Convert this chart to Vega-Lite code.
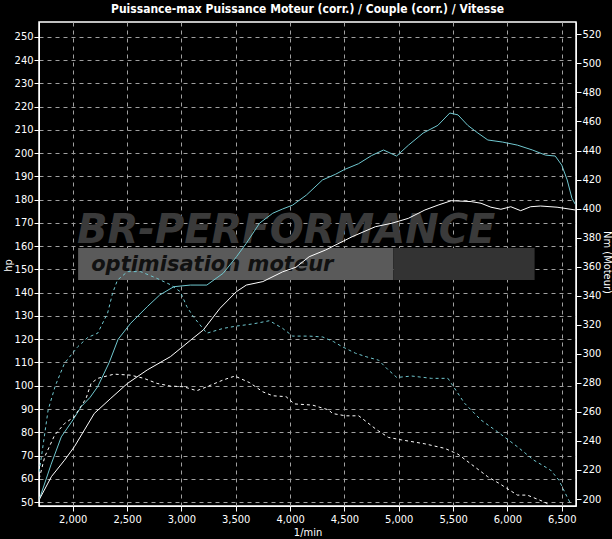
{
  "$schema": "https://vega.github.io/schema/vega-lite/v6.json",
  "width": 537,
  "height": 484,
  "autosize": {"type": "none"},
  "padding": {"left": 39, "top": 22, "right": 36, "bottom": 33},
  "background": "#000000",
  "title": {
    "text": "Puissance-max Puissance Moteur (corr.) / Couple (corr.) / Vitesse",
    "color": "#ffffff",
    "fontSize": 12,
    "fontWeight": "bold",
    "font": "DejaVu Sans Condensed, Liberation Sans, sans-serif",
    "anchor": "middle",
    "offset": 6
  },
  "config": {
    "font": "DejaVu Sans Condensed, Liberation Sans, sans-serif",
    "view": {"stroke": "#ffffff", "strokeWidth": 1.5},
    "axis": {
      "labelColor": "#ffffff",
      "titleColor": "#ffffff",
      "labelFontSize": 11,
      "titleFontSize": 11,
      "titleFontWeight": "normal",
      "domainColor": "#ffffff",
      "tickColor": "#ffffff",
      "gridColor": "#a0a0a0",
      "gridDash": [4, 4],
      "gridWidth": 1
    }
  },
  "datasets": {
    "power": [
      {"rpm": 1692, "hp": 51, "run": "tuned"}, {"rpm": 1800, "hp": 66, "run": "tuned"}, {"rpm": 1895, "hp": 78, "run": "tuned"},
      {"rpm": 2002, "hp": 85.3, "run": "tuned"}, {"rpm": 2078, "hp": 91, "run": "tuned"}, {"rpm": 2160, "hp": 95, "run": "tuned"},
      {"rpm": 2230, "hp": 99.6, "run": "tuned"}, {"rpm": 2336, "hp": 110, "run": "tuned"}, {"rpm": 2418, "hp": 120, "run": "tuned"},
      {"rpm": 2534, "hp": 126.9, "run": "tuned"}, {"rpm": 2686, "hp": 134, "run": "tuned"}, {"rpm": 2800, "hp": 139, "run": "tuned"},
      {"rpm": 2930, "hp": 142.6, "run": "tuned"}, {"rpm": 3082, "hp": 143.3, "run": "tuned"}, {"rpm": 3234, "hp": 143.3, "run": "tuned"},
      {"rpm": 3385, "hp": 148.4, "run": "tuned"}, {"rpm": 3507, "hp": 155.5, "run": "tuned"}, {"rpm": 3598, "hp": 161.3, "run": "tuned"},
      {"rpm": 3719, "hp": 169.9, "run": "tuned"}, {"rpm": 3841, "hp": 174.2, "run": "tuned"}, {"rpm": 3930, "hp": 176, "run": "tuned"},
      {"rpm": 4024, "hp": 177.7, "run": "tuned"}, {"rpm": 4150, "hp": 182, "run": "tuned"}, {"rpm": 4298, "hp": 188.5, "run": "tuned"},
      {"rpm": 4420, "hp": 191, "run": "tuned"}, {"rpm": 4500, "hp": 193, "run": "tuned"}, {"rpm": 4630, "hp": 195.5, "run": "tuned"},
      {"rpm": 4750, "hp": 199, "run": "tuned"}, {"rpm": 4860, "hp": 201.4, "run": "tuned"}, {"rpm": 4980, "hp": 198.8, "run": "tuned"},
      {"rpm": 5090, "hp": 203.5, "run": "tuned"}, {"rpm": 5225, "hp": 208.7, "run": "tuned"}, {"rpm": 5360, "hp": 212, "run": "tuned"},
      {"rpm": 5470, "hp": 217.3, "run": "tuned"}, {"rpm": 5545, "hp": 216.5, "run": "tuned"}, {"rpm": 5635, "hp": 212, "run": "tuned"},
      {"rpm": 5728, "hp": 208.7, "run": "tuned"}, {"rpm": 5820, "hp": 205.7, "run": "tuned"}, {"rpm": 5956, "hp": 204.8, "run": "tuned"},
      {"rpm": 6092, "hp": 203.5, "run": "tuned"}, {"rpm": 6230, "hp": 201.4, "run": "tuned"}, {"rpm": 6350, "hp": 199.2, "run": "tuned"},
      {"rpm": 6440, "hp": 198.8, "run": "tuned"}, {"rpm": 6500, "hp": 194.9, "run": "tuned"}, {"rpm": 6550, "hp": 188.5, "run": "tuned"},
      {"rpm": 6594, "hp": 180.6, "run": "tuned"}, {"rpm": 6625, "hp": 178, "run": "tuned"},
      {"rpm": 1692, "hp": 51, "run": "stock"}, {"rpm": 1804, "hp": 60.9, "run": "stock"}, {"rpm": 1925, "hp": 68, "run": "stock"},
      {"rpm": 2016, "hp": 73.8, "run": "stock"}, {"rpm": 2108, "hp": 81, "run": "stock"}, {"rpm": 2199, "hp": 88.1, "run": "stock"},
      {"rpm": 2351, "hp": 94.6, "run": "stock"}, {"rpm": 2504, "hp": 101, "run": "stock"}, {"rpm": 2686, "hp": 106.8, "run": "stock"},
      {"rpm": 2899, "hp": 112.5, "run": "stock"}, {"rpm": 3082, "hp": 119.5, "run": "stock"}, {"rpm": 3202, "hp": 124, "run": "stock"},
      {"rpm": 3355, "hp": 133.3, "run": "stock"}, {"rpm": 3507, "hp": 140.5, "run": "stock"}, {"rpm": 3598, "hp": 143.3, "run": "stock"},
      {"rpm": 3750, "hp": 144.8, "run": "stock"}, {"rpm": 3932, "hp": 149, "run": "stock"}, {"rpm": 4055, "hp": 151, "run": "stock"},
      {"rpm": 4176, "hp": 155.5, "run": "stock"}, {"rpm": 4328, "hp": 158.4, "run": "stock"}, {"rpm": 4571, "hp": 164.1, "run": "stock"},
      {"rpm": 4785, "hp": 168.4, "run": "stock"}, {"rpm": 4937, "hp": 169.9, "run": "stock"}, {"rpm": 5088, "hp": 172, "run": "stock"},
      {"rpm": 5241, "hp": 175.6, "run": "stock"}, {"rpm": 5362, "hp": 177.7, "run": "stock"}, {"rpm": 5484, "hp": 179.6, "run": "stock"},
      {"rpm": 5666, "hp": 179.2, "run": "stock"}, {"rpm": 5757, "hp": 178.5, "run": "stock"}, {"rpm": 5848, "hp": 176.8, "run": "stock"},
      {"rpm": 5940, "hp": 175.9, "run": "stock"}, {"rpm": 6031, "hp": 177, "run": "stock"}, {"rpm": 6122, "hp": 175.3, "run": "stock"},
      {"rpm": 6213, "hp": 177, "run": "stock"}, {"rpm": 6305, "hp": 177.3, "run": "stock"}, {"rpm": 6457, "hp": 176.8, "run": "stock"},
      {"rpm": 6625, "hp": 175.6, "run": "stock"}
    ],
    "torque": [
      {"rpm": 1692, "nm": 218.7, "run": "tuned"}, {"rpm": 1720, "nm": 233.2, "run": "tuned"}, {"rpm": 1774, "nm": 261.3, "run": "tuned"},
      {"rpm": 1840, "nm": 278, "run": "tuned"}, {"rpm": 1925, "nm": 293.5, "run": "tuned"}, {"rpm": 2047, "nm": 304.9, "run": "tuned"},
      {"rpm": 2139, "nm": 311.3, "run": "tuned"}, {"rpm": 2230, "nm": 314.2, "run": "tuned"}, {"rpm": 2321, "nm": 328, "run": "tuned"},
      {"rpm": 2367, "nm": 341.7, "run": "tuned"}, {"rpm": 2412, "nm": 350.8, "run": "tuned"}, {"rpm": 2504, "nm": 356.6, "run": "tuned"},
      {"rpm": 2625, "nm": 356.6, "run": "tuned"}, {"rpm": 2777, "nm": 351.9, "run": "tuned"}, {"rpm": 2899, "nm": 347.6, "run": "tuned"},
      {"rpm": 2990, "nm": 342.8, "run": "tuned"}, {"rpm": 3051, "nm": 332.4, "run": "tuned"}, {"rpm": 3111, "nm": 325.5, "run": "tuned"},
      {"rpm": 3234, "nm": 314.2, "run": "tuned"}, {"rpm": 3385, "nm": 317.5, "run": "tuned"}, {"rpm": 3507, "nm": 319.1, "run": "tuned"},
      {"rpm": 3659, "nm": 320.6, "run": "tuned"}, {"rpm": 3811, "nm": 322.8, "run": "tuned"}, {"rpm": 3932, "nm": 317.5, "run": "tuned"},
      {"rpm": 4024, "nm": 312.2, "run": "tuned"}, {"rpm": 4176, "nm": 312.2, "run": "tuned"}, {"rpm": 4300, "nm": 311.6, "run": "tuned"},
      {"rpm": 4400, "nm": 308.4, "run": "tuned"}, {"rpm": 4480, "nm": 304.9, "run": "tuned"}, {"rpm": 4602, "nm": 300.4, "run": "tuned"},
      {"rpm": 4700, "nm": 298, "run": "tuned"}, {"rpm": 4815, "nm": 295.6, "run": "tuned"}, {"rpm": 4900, "nm": 289.2, "run": "tuned"},
      {"rpm": 4982, "nm": 283.7, "run": "tuned"}, {"rpm": 5119, "nm": 284.7, "run": "tuned"}, {"rpm": 5301, "nm": 283.1, "run": "tuned"},
      {"rpm": 5453, "nm": 283.1, "run": "tuned"}, {"rpm": 5484, "nm": 279.6, "run": "tuned"}, {"rpm": 5605, "nm": 266, "run": "tuned"},
      {"rpm": 5757, "nm": 254.4, "run": "tuned"}, {"rpm": 5909, "nm": 246.3, "run": "tuned"}, {"rpm": 6092, "nm": 236, "run": "tuned"},
      {"rpm": 6244, "nm": 226.7, "run": "tuned"}, {"rpm": 6396, "nm": 220, "run": "tuned"}, {"rpm": 6473, "nm": 213.1, "run": "tuned"},
      {"rpm": 6548, "nm": 201.6, "run": "tuned"}, {"rpm": 6580, "nm": 197, "run": "tuned"},
      {"rpm": 1692, "nm": 214, "run": "stock"}, {"rpm": 1743, "nm": 229.2, "run": "stock"}, {"rpm": 1834, "nm": 244, "run": "stock"},
      {"rpm": 1925, "nm": 252, "run": "stock"}, {"rpm": 2016, "nm": 256.7, "run": "stock"}, {"rpm": 2123, "nm": 269.3, "run": "stock"},
      {"rpm": 2169, "nm": 279.6, "run": "stock"}, {"rpm": 2230, "nm": 283.1, "run": "stock"}, {"rpm": 2381, "nm": 286, "run": "stock"},
      {"rpm": 2534, "nm": 285.3, "run": "stock"}, {"rpm": 2655, "nm": 283.1, "run": "stock"}, {"rpm": 2777, "nm": 279.6, "run": "stock"},
      {"rpm": 2899, "nm": 277.8, "run": "stock"}, {"rpm": 3020, "nm": 277.3, "run": "stock"}, {"rpm": 3142, "nm": 274.6, "run": "stock"},
      {"rpm": 3234, "nm": 277.3, "run": "stock"}, {"rpm": 3385, "nm": 282, "run": "stock"}, {"rpm": 3492, "nm": 284.7, "run": "stock"},
      {"rpm": 3629, "nm": 280.1, "run": "stock"}, {"rpm": 3750, "nm": 273.8, "run": "stock"}, {"rpm": 3841, "nm": 271.1, "run": "stock"},
      {"rpm": 3963, "nm": 270.5, "run": "stock"}, {"rpm": 4039, "nm": 265.5, "run": "stock"}, {"rpm": 4206, "nm": 264.7, "run": "stock"},
      {"rpm": 4358, "nm": 261.3, "run": "stock"}, {"rpm": 4389, "nm": 258.9, "run": "stock"}, {"rpm": 4511, "nm": 257.3, "run": "stock"},
      {"rpm": 4632, "nm": 257.3, "run": "stock"}, {"rpm": 4799, "nm": 247.6, "run": "stock"}, {"rpm": 4906, "nm": 242.4, "run": "stock"},
      {"rpm": 5027, "nm": 240.7, "run": "stock"}, {"rpm": 5241, "nm": 238, "run": "stock"}, {"rpm": 5423, "nm": 234.9, "run": "stock"},
      {"rpm": 5545, "nm": 230.9, "run": "stock"}, {"rpm": 5697, "nm": 222.3, "run": "stock"}, {"rpm": 5818, "nm": 215.4, "run": "stock"},
      {"rpm": 5925, "nm": 210.7, "run": "stock"}, {"rpm": 6092, "nm": 202.7, "run": "stock"}, {"rpm": 6183, "nm": 202.7, "run": "stock"},
      {"rpm": 6335, "nm": 198.1, "run": "stock"}, {"rpm": 6380, "nm": 196.3, "run": "stock"}
    ],
    "logo": [
      {"line": "BR-PERFORMANCE"},
      {"line": "optimisation moteur"}
    ]
  },
  "layer": [
    {
      "layer": [
        {
          "data": {"values": [{"part": "banner"}]},
          "mark": {"type": "rect", "color": "#5a5a5a"},
          "encoding": {
            "x": {"datum": 2050, "type": "quantitative"},
            "x2": {"datum": 4950},
            "y": {"datum": 145.5, "type": "quantitative"},
            "y2": {"datum": 159.2}
          }
        },
        {
          "data": {"values": [{"part": "flag"}]},
          "mark": {"type": "rect", "color": "#333333"},
          "encoding": {
            "x": {"datum": 4950, "type": "quantitative"},
            "x2": {"datum": 6250},
            "y": {"datum": 145.5, "type": "quantitative"},
            "y2": {"datum": 159.2}
          }
        },
        {
          "data": {"name": "logo"},
          "transform": [{"filter": "datum.line === 'BR-PERFORMANCE'"}],
          "mark": {"type": "text", "align": "left", "baseline": "alphabetic", "fontSize": 40, "fontStyle": "italic", "fontWeight": "bold", "font": "DejaVu Sans", "color": "#3a3a3a"},
          "encoding": {
            "x": {"datum": 2040, "type": "quantitative"},
            "y": {"datum": 161.5, "type": "quantitative"},
            "text": {"field": "line"}
          }
        },
        {
          "data": {"name": "logo"},
          "transform": [{"filter": "datum.line === 'optimisation moteur'"}],
          "mark": {"type": "text", "align": "left", "baseline": "alphabetic", "fontSize": 21, "fontStyle": "italic", "fontWeight": "bold", "font": "DejaVu Sans", "color": "#111111"},
          "encoding": {
            "x": {"datum": 2170, "type": "quantitative"},
            "y": {"datum": 149.2, "type": "quantitative"},
            "text": {"field": "line"}
          }
        },
        {
          "data": {"name": "power"},
          "mark": {"type": "line", "strokeWidth": 1, "clip": true},
          "encoding": {
            "x": {"field": "rpm", "type": "quantitative"},
            "y": {"field": "hp", "type": "quantitative"},
            "color": {"field": "run", "type": "nominal", "scale": {"domain": ["stock", "tuned"], "range": ["#ffffff", "#70c8d0"]}, "legend": null},
            "detail": {"field": "run"}
          }
        }
      ],
      "encoding": {
        "x": {
          "type": "quantitative",
          "scale": {"domain": [1690, 6631], "nice": false, "zero": false},
          "axis": {
            "title": "1/min",
            "values": [2000, 2500, 3000, 3500, 4000, 4500, 5000, 5500, 6000, 6500],
            "format": ",d",
            "tickSize": 5,
            "labelPadding": 2,
            "titlePadding": 2,
            "grid": true
          }
        },
        "y": {
          "type": "quantitative",
          "scale": {"domain": [48.28, 256.45], "nice": false, "zero": false},
          "axis": {
            "title": "hp",
            "orient": "left",
            "values": [50, 60, 70, 80, 90, 100, 110, 120, 130, 140, 150, 160, 170, 180, 190, 200, 210, 220, 230, 240, 250],
            "tickSize": 5,
            "labelPadding": 1,
            "titleX": -31,
            "titleY": 243,
            "titleBaseline": "middle",
            "grid": true
          }
        }
      }
    },
    {
      "data": {"name": "torque"},
      "mark": {"type": "line", "strokeWidth": 1, "strokeDash": [3, 3], "clip": true},
      "encoding": {
        "x": {"field": "rpm", "type": "quantitative"},
        "y": {
          "field": "nm",
          "type": "quantitative",
          "scale": {"domain": [195.2, 528.5], "nice": false, "zero": false},
          "axis": {
            "title": "Nm (Moteur)",
            "orient": "right",
            "titleAngle": 90,
            "values": [200, 220, 240, 260, 280, 300, 320, 340, 360, 380, 400, 420, 440, 460, 480, 500, 520],
            "tickSize": 5,
            "labelPadding": 1,
            "titleX": 30,
            "titleY": 240,
            "titleBaseline": "middle",
            "grid": false
          }
        },
        "color": {"field": "run", "type": "nominal", "scale": {"domain": ["stock", "tuned"], "range": ["#ffffff", "#70c8d0"]}, "legend": null},
        "detail": {"field": "run"}
      }
    }
  ],
  "resolve": {"scale": {"y": "independent"}, "axis": {"y": "independent"}}
}
